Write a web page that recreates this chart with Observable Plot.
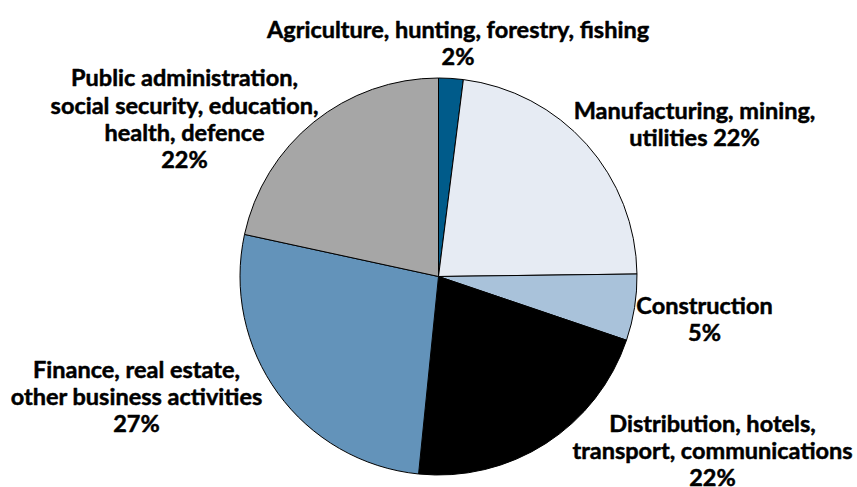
<!DOCTYPE html>
<html>
<head>
<meta charset="utf-8">
<script src="https://cdn.jsdelivr.net/npm/d3@7"></script>
<script src="https://cdn.jsdelivr.net/npm/@observablehq/plot@0.6"></script>
<style>
  html, body { margin: 0; padding: 0; background: #ffffff; }
  #chart svg { display: block; }
</style>
</head>
<body>
<div id="chart"></div>
<script>
// ---- Data ----
const categories = [
  "Agriculture, hunting, forestry, fishing",
  "Manufacturing, mining,\nutilities",
  "Construction",
  "Distribution, hotels,\ntransport, communications",
  "Finance, real estate,\nother business activities",
  "Public administration,\nsocial security, education,\nhealth, defence"
];
const values = [2.0, 22.8, 5.4, 21.4, 26.8, 21.6];
const pctLabels = ["2%", "22%", "5%", "22%", "27%", "22%"];

// ---- Styles / layout (kept apart from the data) ----
const colors = ["#005b8a", "#e6ebf3", "#a9c2da", "#000000", "#6393ba", "#a6a6a6"];
const pctSeparator = ["\n", " ", "\n", "\n", "\n", "\n"];
const pieCenter = {x: 438.5, y: 276.5};
const pieRadius = 198.5;
// label block centres, in page pixels
const labelX = [457.5, 694, 704, 712, 136, 184];
const labelY = [42.5, 123, 318.5, 450, 396, 118];

const rows = categories.map((c, i) => ({
  category: c,
  value: values[i],
  color: colors[i],
  label: c + pctSeparator[i] + pctLabels[i],
  lx: labelX[i],
  ly: labelY[i]
}));

const W = 857, H = 487;

function pieMark(index, scales, values, dimensions, context) {
  const cx = scales.x(pieCenter.x), cy = scales.y(pieCenter.y);
  const r = Math.abs(scales.x(pieCenter.x + pieRadius) - scales.x(pieCenter.x));
  const pie = d3.pie().sort(null).value(d => d.value);
  const arc = d3.arc().innerRadius(0).outerRadius(r);
  const g = d3.create("svg:g").attr("transform", `translate(${cx},${cy})`);
  g.selectAll("path")
    .data(pie(rows))
    .join("path")
    .attr("d", arc)
    .attr("fill", d => d.data.color)
    .attr("stroke", "#000")
    .attr("stroke-width", 1)
    .attr("stroke-linejoin", "round");
  return g.node();
}

const chart = Plot.plot({
  width: W,
  height: H,
  margin: 0,
  x: {domain: [0, W], range: [0, W], axis: null},
  y: {domain: [0, H], range: [0, H], axis: null},
  style: {background: "#ffffff"},
  marks: [
    pieMark,
    Plot.text(rows, {
      x: "lx",
      y: "ly",
      text: "label",
      fontFamily: "Lato, 'Open Sans', sans-serif",
      fontWeight: 700,
      fontSize: 23.5,
      lineHeight: 1.16,
      fill: "#000",
      stroke: "#000",
      strokeWidth: 0.5,
      textAnchor: "middle"
    })
  ]
});
document.getElementById("chart").appendChild(chart);
</script>
</body>
</html>
